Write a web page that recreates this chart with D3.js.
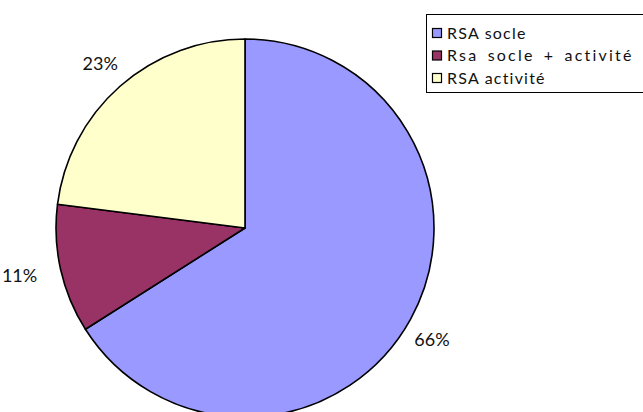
<!DOCTYPE html>
<html>
<head>
<meta charset="utf-8">
<script src="https://cdn.jsdelivr.net/npm/d3@7"></script>
<style>
  body { margin: 0; background: #fff; }
  svg { display: block; font-family: Lato, "Open Sans", sans-serif; }
</style>
</head>
<body>
<div id="chart"></div>
<script>
// Pie chart: RSA breakdown

var categories = ["RSA socle", "Rsa socle + activité", "RSA activité"]
var values = [66, 11, 23]
var labels = ["66%", "11%", "23%"]
var colors = ["#9999ff", "#993366", "#ffffcc"]

var width = 643, height = 412

var svg = d3.select("#chart")
  .append("svg")
    .attr("width", width)
    .attr("height", height)

var cx = 245, cy = 228, radius = 189

var pie = d3.pie()
  .sort(null)
  .value(function(d) { return d.value })

var arc = d3.arc()
  .innerRadius(0)
  .outerRadius(radius)

var data = categories.map(function(c, i) { return {name: c, value: values[i], label: labels[i]} })

var g = svg.append("g")
    .attr("transform", "translate(" + cx + "," + cy + ")")

var arcs = pie(data)

g.selectAll("path")
  .data(arcs)
  .enter()
  .append("path")
    .attr("d", arc)
    .attr("fill", function(d, i) { return colors[i] })
    .attr("stroke", "#000")
    .attr("stroke-width", 1.6)
    .attr("stroke-linejoin", "round")

// labels sit just outside the pie
var labelArc = d3.arc()
  .innerRadius(radius + 30)
  .outerRadius(radius + 30)

g.selectAll("text.pct")
  .data(arcs)
  .enter()
  .append("text")
    .attr("class", "pct")
    .attr("transform", function(d) {
      var c = labelArc.centroid(d)
      // push side labels a bit further out horizontally
      var mid = (d.startAngle + d.endAngle) / 2
      var s = Math.sin(mid)
      if (Math.abs(s) > 0.95) c[0] += s * 12
      else if (Math.cos(mid) < 0) { c[0] -= 5; c[1] += 6 }
      return "translate(" + c + ")"
    })
    .attr("text-anchor", "middle")
    .attr("dy", "0.35em")
    .style("font-size", "18px")
    .style("fill", "#111")
    .text(function(d) { return d.data.label })

// legend
var legend = svg.append("g")
    .attr("transform", "translate(426,14)")

legend.append("rect")
    .attr("x", 0.5)
    .attr("y", 0.5)
    .attr("width", 260)
    .attr("height", 78)
    .attr("fill", "#fff")
    .attr("stroke", "#000")
    .attr("stroke-width", 1)

var item = legend.selectAll("g.item")
  .data(categories)
  .enter()
  .append("g")
    .attr("class", "item")
    .attr("transform", function(d, i) { return "translate(6," + (19 + i * 22.5) + ")" })

item.append("rect")
    .attr("x", 0.5)
    .attr("y", -4.5)
    .attr("width", 9)
    .attr("height", 9)
    .attr("fill", function(d, i) { return colors[i] })
    .attr("stroke", "#000")
    .attr("stroke-width", 1.2)

item.append("text")
    .attr("x", 15)
    .attr("dy", "0.36em")
    .style("font-size", "16px")
    .style("letter-spacing", "1.2px")
    .style("fill", "#111")
    .text(function(d) { return d })

// the long entry is spread wider in the original and runs off the edge
item.filter(function(d) { return d.length > 15 })
  .select("text")
    .style("letter-spacing", "2.2px")
    .style("word-spacing", "3px")
</script>
</body>
</html>
